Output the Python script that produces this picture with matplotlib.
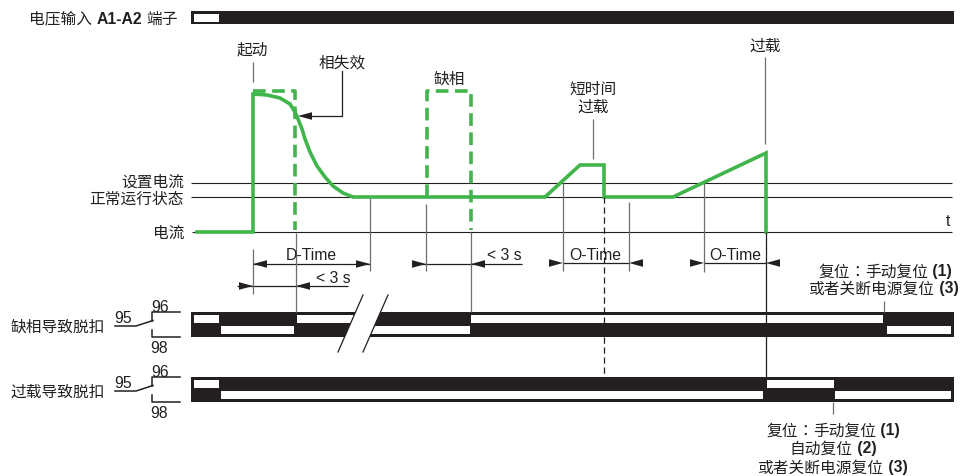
import numpy as np
import matplotlib.pyplot as plt
from matplotlib.patches import Rectangle, Polygon

plt.rcParams['font.family'] = ['Noto Sans CJK SC', 'DejaVu Sans']

INK = '#231f20'
GREY = '#6d6e71'
GREEN = '#40b54b'
FS = 11.3
LATIN = ['Liberation Sans', 'DejaVu Sans']
CJK = ['Noto Sans CJK SC', 'DejaVu Sans']
COLON = ['Noto Sans CJK TC', 'DejaVu Sans']   # centred full-width colon

# ---- data (picture units: x to the right, y down) ----
bar_x = (191, 954)
level_set = 184      # 设置电流
level_norm = 198     # 正常运行状态
level_zero = 233     # 电流 / t axis

# measured current
cur_x = [197, 253, 253, 267, 280, 290, 295, 298, 302, 305, 310, 317, 325, 333, 343, 353,
         545, 580, 604, 604, 673, 766, 766]
cur_y = [233, 233, 95, 96, 99, 105, 113, 120, 130, 140, 153, 167, 178, 187, 194, 198,
         198, 166, 166, 198, 198, 154, 233]

# phase loss (dashed)
loss1_x = [253, 295, 295]
loss1_y = [92, 92, 231]
loss2_x = [427, 427, 471, 471]
loss2_y = [198, 92, 92, 231]

# supply bar
volt_white = [(194, 219)]

# relay states: white strips on the 96 (upper) / 98 (lower) track
relay1_top = 313
relay1_upper = [(194, 219), (297, 365), (471, 883)]
relay1_lower = [(221, 294), (365, 470), (887, 951)]
relay2_top = 378
relay2_upper = [(194, 219), (767, 834)]
relay2_lower = [(221, 763), (835, 951)]

# time markers (x, y_top, y_bottom)
markers = [(253, 250, 295), (296, 234, 313), (370, 198, 272), (426, 205, 272),
           (471, 233, 313), (563, 184, 272), (629, 203, 272), (704, 184, 273)]
callouts = [(253, 63, 83), (593, 120, 160), (765, 58, 145), (884, 302, 313), (833, 403, 415)]

# dimensions: x_left, x_right, y, arrow style, line start, line end
dims = [(253, 370, 265, 'in', 253, 370),
        (253, 296, 287, 'out', 237, 348),
        (426, 471, 265, 'out', 412, 522),
        (563, 629, 264, 'out', 563, 629),
        (704, 766, 264, 'out', 704, 766)]
dim_labels = ['D-Time', '< 3 s', '< 3 s', 'O-Time', 'O-Time']
dim_label_pos = [(311, 256), (333, 279), (504, 256), (595, 255), (735, 255)]

# reset notes: (centre x, y, text before number, number)
notes = [(885, 272, '复位：手动复位', '(1)'),
         (884, 289, '或者关断电源复位', '(3)'),
         (833, 431, '复位：手动复位', '(1)'),
         (833, 449, '自动复位', '(2)'),
         (833, 468, '或者关断电源复位', '(3)')]

fig = plt.figure(figsize=(9.62, 4.77), dpi=100)
ax = fig.add_axes([0, 0, 1, 1])
ax.set_xlim(0, 962)
ax.set_ylim(477, 0)
ax.axis('off')
renderer = fig.canvas.get_renderer()


def runs(xc, y, pieces):
    # pieces: (text, family, weight); laid out left to right, centred on xc
    objs = [ax.text(0, y, s, ha='left', va='center', fontsize=FS, color=INK,
                    family=f, fontweight=w) for s, f, w in pieces]
    widths = [o.get_window_extent(renderer).width for o in objs]
    x = xc - sum(widths) / 2
    for o, w in zip(objs, widths):
        o.set_x(x)
        x += w


# supply bar
ax.add_patch(Rectangle((bar_x[0], 12), bar_x[1] - bar_x[0], 13, color=INK, lw=0))
for a, b in volt_white:
    ax.add_patch(Rectangle((a, 14.8), b - a, 8, color='white', lw=0))
ax.text(92, 19, '电压输入', ha='right', va='center', fontsize=FS, color=INK)
ax.text(119.5, 19, 'A1-A2', ha='center', va='center', fontsize=FS, color=INK,
        family=LATIN, fontweight='bold')
ax.text(146, 19, '端子', ha='left', va='center', fontsize=FS, color=INK)

# level lines
ax.hlines([level_set, level_norm], 191, 952, color=INK, lw=0.8)
ax.hlines(level_zero, 192, 952, color=INK, lw=0.8)
ax.text(184, 182.5, '设置电流', ha='right', va='center', fontsize=FS, color=INK)
ax.text(184, 199.5, '正常运行状态', ha='right', va='center', fontsize=FS, color=INK)
ax.text(185, level_zero, '电流', ha='right', va='center', fontsize=FS, color=INK)
ax.text(948, 222, 't', ha='center', va='center', fontsize=FS, color=INK, family=LATIN)

# current traces
ax.plot(cur_x, cur_y, color=GREEN, lw=2.6, solid_joinstyle='miter', zorder=4)
ax.plot(loss1_x, loss1_y, color=GREEN, lw=2.6, dashes=(3.5, 1.8), zorder=4)
ax.plot(loss2_x, loss2_y, color=GREEN, lw=2.6, dashes=(3.5, 1.8), zorder=4)

# markers and callouts
for x, y0, y1 in markers:
    ax.vlines(x, y0, y1, color=GREY, lw=0.9, zorder=3)
for x, y0, y1 in callouts:
    ax.vlines(x, y0, y1, color=GREY, lw=0.9, zorder=3)


def head(xtip, y, d):
    ax.fill([xtip, xtip - d * 14, xtip - d * 14], [y, y - 3.8, y + 3.8],
            color=INK, lw=0, zorder=5)


for (xl, xr, y, kind, l0, l1), lab, (tx, ty) in zip(dims, dim_labels, dim_label_pos):
    ax.hlines(y, l0, l1, color=INK, lw=0.9)
    if kind == 'in':
        head(xl, y, -1)
        head(xr, y, 1)
    else:
        head(xl, y, 1)
        head(xr, y, -1)
    ax.text(tx, ty, lab, ha='center', va='center', fontsize=FS, color=INK, family=LATIN)

# 相失效 leader
ax.plot([342, 342, 312], [72, 117, 117], color=INK, lw=0.9)
head(298, 117, -1)

# event labels
ax.text(252, 49.5, '起动', ha='center', va='center', fontsize=FS, color=INK)
ax.text(342, 62.5, '相失效', ha='center', va='center', fontsize=FS, color=INK)
ax.text(449, 79, '缺相', ha='center', va='center', fontsize=FS, color=INK)
ax.text(593, 89.5, '短时间', ha='center', va='center', fontsize=FS, color=INK)
ax.text(593, 107.5, '过载', ha='center', va='center', fontsize=FS, color=INK)
ax.text(765, 46.5, '过载', ha='center', va='center', fontsize=FS, color=INK)


def relay(top, upper, lower, name):
    ax.add_patch(Rectangle((bar_x[0], top), bar_x[1] - bar_x[0], 24.5, color=INK, lw=0))
    for a, b in upper:
        ax.add_patch(Rectangle((a, top + 3.2), b - a, 7.3, color='white', lw=0))
    for a, b in lower:
        ax.add_patch(Rectangle((a, top + 14), b - a, 7.5, color='white', lw=0))
    # contact symbol
    ax.plot([115, 136, 153], [top + 14, top + 14, top + 8.5], color=INK, lw=1.1)
    ax.plot([152, 152, 180], [top + 9, top, top], color=INK, lw=1.1)
    ax.plot([152, 152, 180], [top + 17.5, top + 25, top + 25], color=INK, lw=1.1)
    ax.text(160, top - 5.5, '96', ha='center', va='center', fontsize=FS, color=INK, family=LATIN)
    ax.text(123.5, top + 5.5, '95', ha='center', va='center', fontsize=FS, color=INK, family=LATIN)
    ax.text(159, top + 36, '98', ha='center', va='center', fontsize=FS, color=INK, family=LATIN)
    ax.text(105, top + 14, name, ha='right', va='center', fontsize=FS, color=INK)


relay(relay1_top, relay1_upper, relay1_lower, '缺相导致脱扣')
relay(relay2_top, relay2_upper, relay2_lower, '过载导致脱扣')

# time break on relay 1
ax.add_patch(Polygon([(363, 296), (388, 296), (363, 353), (338, 353)],
                     closed=True, color='white', lw=0, zorder=6))
ax.plot([363, 338], [296, 353], color=INK, lw=0.9, zorder=7)
ax.plot([388, 363], [296, 353], color=INK, lw=0.9, zorder=7)

# lines crossing relay 1
ax.vlines(604, 198, 378, color=INK, lw=0.9, linestyles=(0, (5, 3)), zorder=8)
ax.vlines(766, 233, 378, color=INK, lw=0.9, zorder=8)

# reset notes
for xc, y, head_txt, num in notes:
    pieces = []
    if '：' in head_txt:
        a, b = head_txt.split('：')
        pieces += [(a, CJK, 'normal'), ('：', COLON, 'normal'), (b, CJK, 'normal')]
    else:
        pieces.append((head_txt, CJK, 'normal'))
    pieces.append((' ' + num, LATIN, 'bold'))
    runs(xc, y, pieces)

fig.savefig('out.png', dpi=100)
